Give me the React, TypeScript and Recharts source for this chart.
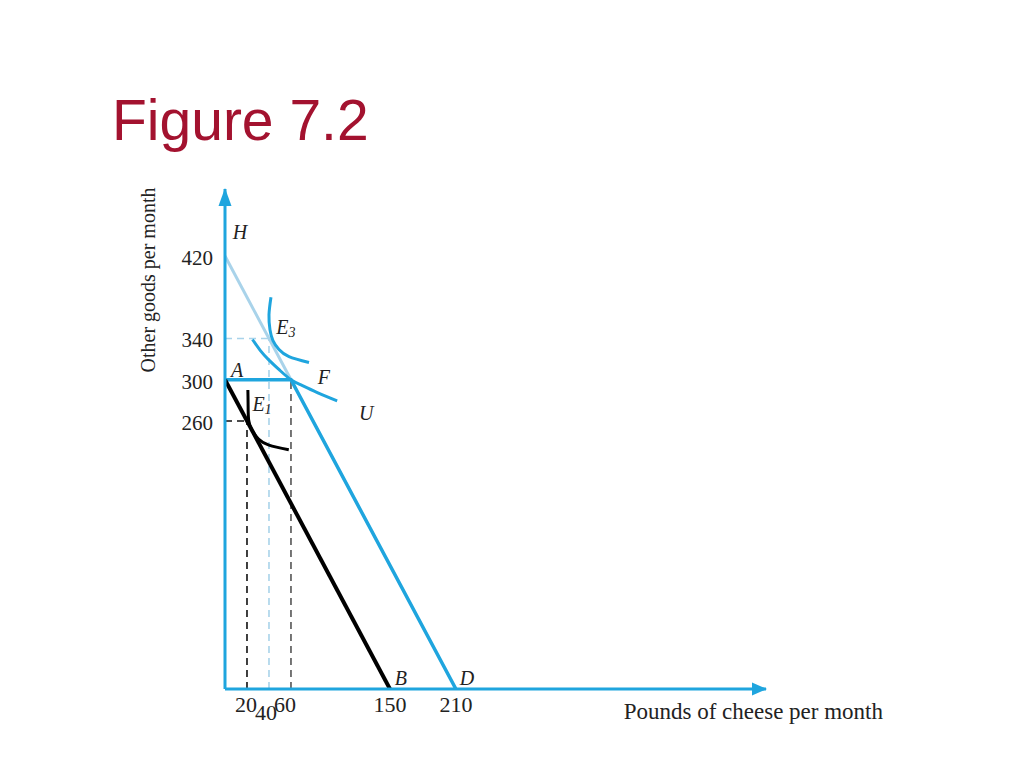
import React from 'react';
import { LineChart, Line, XAxis, YAxis, ReferenceLine, ReferenceDot } from 'recharts';

const BLUE = '#1fa5de';
const PALE = '#a9d3ea';
const SERIF = "'Liberation Serif', 'Times New Roman', serif";

const xTicks = [20, 40, 60, 150, 210];
const yTicks = [260, 300, 340, 420];

// budget lines
const lineAB = [{ x: 0, y: 300 }, { x: 150, y: 0 }];
const lineHF = [{ x: 0, y: 420 }, { x: 60, y: 300 }];
const lineAFD = [{ x: 0, y: 300 }, { x: 60, y: 300 }, { x: 210, y: 0 }];

// indifference curves
const curveE3 = [
  { x: 41.8, y: 380 }, { x: 40, y: 363 }, { x: 40.9, y: 348.5 }, { x: 43.6, y: 338 },
  { x: 49.1, y: 329.3 }, { x: 58.2, y: 322.5 }, { x: 76.4, y: 316.7 },
];
const curveU = [
  { x: 25, y: 339 }, { x: 32, y: 328.5 }, { x: 40, y: 319 }, { x: 50, y: 309 },
  { x: 60, y: 300 }, { x: 70, y: 294.5 }, { x: 85, y: 287 }, { x: 102, y: 279.5 },
];
const curveE1 = [
  { x: 20.8, y: 290 }, { x: 21, y: 277 }, { x: 21.5, y: 261 }, { x: 24.5, y: 251 },
  { x: 30.5, y: 242.5 }, { x: 40, y: 236.5 }, { x: 58, y: 232 },
];

// point labels
const pointNames = ['H', 'A', 'F', 'E', 'E', 'B', 'D', 'U'];
const pointSubs = ['', '', '', '3', '1', '', '', ''];
const pointX = [0, 0, 60, 40, 20, 150, 210, 102];
const pointY = [420, 300, 300, 340, 260, 0, 0, 279.5];

// label offsets in pixels, same order as above
const labelOffsets = [[15, -24], [12, -10], [33, -3], [17, -11], [15, -17], [11, -11], [11, -11], [29, 12]];

const XTick = ({ x, y, payload }: any) => {
  const v = payload.value;
  const dx = v === 40 ? -3 : v === 60 ? -6 : v === 20 ? -1 : 0;
  return (
    <text x={x + dx} y={y} dy={v === 40 ? 23 : 15} textAnchor="middle" fontFamily={SERIF} fontSize={22} fill="#222">
      {v}
    </text>
  );
};

const YTick = ({ x, y, payload }: any) => (
  <text x={x} y={y} dy={9} textAnchor="end" fontFamily={SERIF} fontSize={21} fill="#222">
    {payload.value}
  </text>
);

const YTitle = ({ viewBox }: any) => {
  const tx = viewBox.x - 10;
  const ty = viewBox.y + 91;
  return (
    <text x={tx} y={ty} transform={`rotate(-90, ${tx}, ${ty})`} textAnchor="middle" fontFamily={SERIF} fontSize={20} fill="#222">
      Other goods per month
    </text>
  );
};

const XTitle = ({ viewBox }: any) => (
  <text x={viewBox.x + 658} y={viewBox.y + 30} textAnchor="end" fontFamily={SERIF} fontSize={23} fill="#222">
    Pounds of cheese per month
  </text>
);

const UpArrow = ({ cx, cy }: any) => (
  <polygon points={`${cx},${cy - 1} ${cx - 6.5},${cy + 17} ${cx + 6.5},${cy + 17}`} fill={BLUE} />
);

const RightArrow = ({ cx, cy }: any) => (
  <polygon points={`${cx + 1},${cy} ${cx - 14},${cy - 6.5} ${cx - 14},${cy + 6.5}`} fill={BLUE} />
);

const makeLabel = (i: number) => ({ cx, cy }: any) => (
  <text
    x={cx + labelOffsets[i][0]}
    y={cy + labelOffsets[i][1]}
    textAnchor="middle"
    dominantBaseline="central"
    fontFamily={SERIF}
    fontStyle="italic"
    fontSize={20}
    fill="#222"
  >
    {pointNames[i]}
    {pointSubs[i] && (
      <tspan fontSize={14} dy={5}>
        {pointSubs[i]}
      </tspan>
    )}
  </text>
);

const dash = { strokeDasharray: '7 5', strokeWidth: 1.6 };

export default function App() {
  return (
    <div style={{ position: 'absolute', left: 0, top: 0, width: 1024, height: 768, background: '#fff' }}>
      <div
        style={{
          position: 'absolute',
          left: 112,
          top: 92,
          fontFamily: "'Liberation Sans', Arial, sans-serif",
          fontSize: 57,
          lineHeight: '57px',
          color: '#a3122f',
        }}
      >
        Figure 7.2
      </div>
      <LineChart
        width={1024}
        height={768}
        margin={{ top: 189, right: 258, bottom: 49, left: 165 }}
        style={{ position: 'absolute', left: 0, top: 0 }}
      >
        <XAxis
          type="number"
          dataKey="x"
          domain={[0, 492]}
          ticks={xTicks}
          interval={0}
          height={30}
          tickLine={false}
          tickMargin={2}
          tick={<XTick />}
          axisLine={{ stroke: BLUE, strokeWidth: 3 }}
          allowDataOverflow
          label={<XTitle />}
        />
        <YAxis
          type="number"
          dataKey="y"
          domain={[0, 485]}
          ticks={yTicks}
          interval={0}
          width={60}
          tickLine={false}
          tickMargin={6}
          tick={<YTick />}
          axisLine={{ stroke: BLUE, strokeWidth: 3 }}
          allowDataOverflow
          label={<YTitle />}
        />

        <ReferenceLine segment={[{ x: 20, y: 0 }, { x: 20, y: 260 }]} stroke="#111" {...dash} />
        <ReferenceLine segment={[{ x: 0, y: 260 }, { x: 20, y: 260 }]} stroke="#111" {...dash} />
        <ReferenceLine segment={[{ x: 40, y: 0 }, { x: 40, y: 340 }]} stroke={PALE} {...dash} />
        <ReferenceLine segment={[{ x: 0, y: 340 }, { x: 40, y: 340 }]} stroke={PALE} {...dash} />
        <ReferenceLine segment={[{ x: 60, y: 0 }, { x: 60, y: 300 }]} stroke="#555" {...dash} />

        <Line data={lineHF} dataKey="y" type="linear" stroke={PALE} strokeWidth={3} dot={false} activeDot={false} isAnimationActive={false} />
        <Line data={lineAFD} dataKey="y" type="linear" stroke={BLUE} strokeWidth={3.5} dot={false} activeDot={false} isAnimationActive={false} />
        <Line data={lineAB} dataKey="y" type="linear" stroke="#000" strokeWidth={4} dot={false} activeDot={false} isAnimationActive={false} />
        <Line data={curveE3} dataKey="y" type="natural" stroke={BLUE} strokeWidth={3} dot={false} activeDot={false} isAnimationActive={false} />
        <Line data={curveU} dataKey="y" type="natural" stroke={BLUE} strokeWidth={3} dot={false} activeDot={false} isAnimationActive={false} />
        <Line data={curveE1} dataKey="y" type="natural" stroke="#000" strokeWidth={3} dot={false} activeDot={false} isAnimationActive={false} />

        <ReferenceDot x={0} y={485} r={1} ifOverflow="visible" shape={UpArrow} />
        <ReferenceDot x={492} y={0} r={1} ifOverflow="visible" shape={RightArrow} />

        {pointNames.map((n, i) => (
          <ReferenceDot key={`p-${i}`} x={pointX[i]} y={pointY[i]} r={1} ifOverflow="visible" shape={makeLabel(i)} />
        ))}
      </LineChart>
    </div>
  );
}
